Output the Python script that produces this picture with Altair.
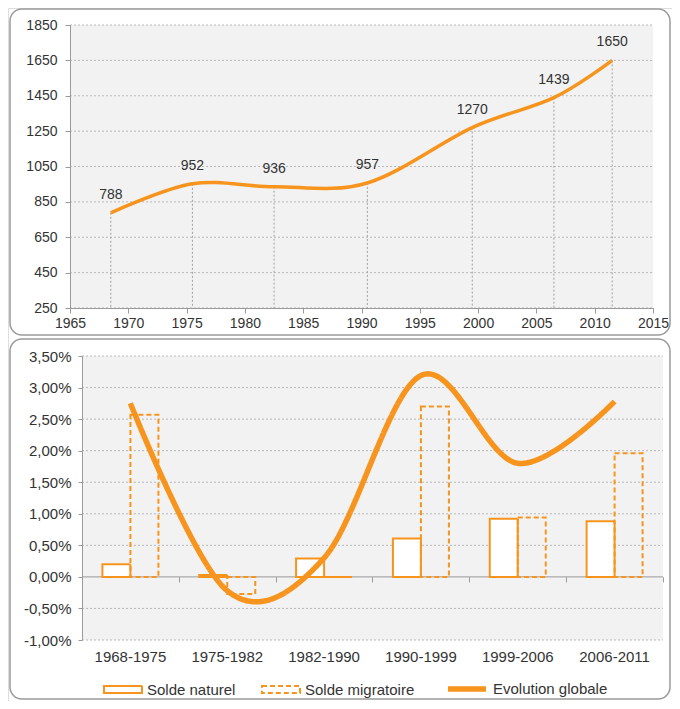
import altair as alt
import pandas as pd

# ---------------- data ----------------
years = [1968, 1975, 1982, 1990, 1999, 2006, 2011]
population = [788, 952, 936, 957, 1270, 1439, 1650]

periods = ["1968-1975", "1975-1982", "1982-1990", "1990-1999", "1999-2006", "2006-2011"]
solde_naturel = [0.20, 0.03, 0.29, 0.61, 0.92, 0.88]
solde_migratoire = [2.57, -0.27, 0.00, 2.70, 0.94, 1.96]
evolution_globale = [2.75, -0.22, 0.30, 3.19, 1.80, 2.78]

series_names = ["Solde naturel", "Solde migratoire", "Evolution globale"]

top_x_ticks = list(range(1965, 2016, 5))
top_y_ticks = list(range(250, 1851, 200))
bot_y_ticks = [-1.0, -0.5, 0.0, 0.5, 1.0, 1.5, 2.0, 2.5, 3.0, 3.5]

# ---------------- style / layout ----------------
ORANGE = "#F7941D"
TEXT = "#333333"
AXIS = "#9a9a9a"
GRID = "#b8b8b8"
FRAME = "#9a9a9a"
BG = "#F2F2F2"
FONT = "Liberation Sans"

W, H = 664, 693
# top panel plot area (pixels)
TX0, TX1, TY0, TY1 = 62, 645, 17, 300
# bottom panel plot area (pixels)
BX0, BX1, BY0, BY1 = 74, 655, 348, 632
Y_MIN, Y_MAX = -1.0, 3.5

pop_df = pd.DataFrame({"year": years, "population": population})
bars_df = pd.DataFrame({
    "period": periods * 2,
    "series": [series_names[0]] * len(periods) + [series_names[1]] * len(periods),
    "value": solde_naturel + solde_migratoire,
})
line_df = pd.DataFrame({
    "period": periods,
    "series": [series_names[2]] * len(periods),
    "value": evolution_globale,
})
one_df = pd.DataFrame({"k": [0]})


def box(x0, x1, y0, y1, **kw):
    return alt.Chart(one_df).mark_rect(**kw).encode(
        x=alt.value(x0), x2=alt.value(x1), y=alt.value(y0), y2=alt.value(y1)
    )


frames = alt.layer(
    box(TX0, TX1, TY0, TY1, color=BG),
    box(BX0, BX1, BY0, BY1, color=BG),
    box(2, 662, 1, 327, fillOpacity=0, stroke=FRAME, strokeWidth=1.5, cornerRadius=12),
    box(2, 662, 331, 691, fillOpacity=0, stroke=FRAME, strokeWidth=1.5, cornerRadius=12),
)

# ---------------- top panel ----------------
top_base = alt.Chart(pop_df).transform_calculate(t="datum.year + 0.5")

x_top_scale = alt.Scale(domain=[1965, 2015], range=[TX0, TX1], nice=False, zero=False)
x_top_axis = alt.Axis(
    orient="bottom", offset=-(H - TY1), zindex=1,
    values=top_x_ticks, format="d", title=None, grid=False,
    domainColor=AXIS, tickColor=AXIS, tickSize=5, labelPadding=3,
    labelFlush=False, labelOverlap=False, labelBound=False,
    labelFontSize=14, labelColor=TEXT, labelFont=FONT,
)
y_top_scale = alt.Scale(domain=[250, 1850], range=[TY1, TY0], nice=False, zero=False)
y_top_axis = alt.Axis(
    orient="left", offset=-TX0, zindex=1,
    values=top_y_ticks, format="d", title=None, grid=False,
    domainColor=AXIS, tickColor=AXIS,
    tickSize=5, labelPadding=8, labelOverlap=False, labelFlush=False, labelBound=False,
    labelFontSize=14, labelColor=TEXT, labelFont=FONT,
)
x_top = alt.X("t:Q", scale=x_top_scale, axis=x_top_axis)
y_top = alt.Y("population:Q", scale=y_top_scale, axis=y_top_axis)

top_grid = alt.Chart(pd.DataFrame({"v": top_y_ticks})).mark_rule(
    color=GRID, strokeDash=[2, 2], strokeWidth=1
).encode(
    y=alt.Y("v:Q", scale=y_top_scale, axis=y_top_axis),
    x=alt.value(TX0), x2=alt.value(TX1),
)
drops = top_base.mark_rule(color="#a0a0a0", strokeDash=[2, 2], strokeWidth=1).encode(
    x=x_top, y=y_top, y2=alt.datum(250)
)
pop_line = top_base.mark_line(color=ORANGE, strokeWidth=3.5, interpolate="cardinal").encode(
    x=x_top, y=y_top
)
pop_labels = top_base.mark_text(dy=-18, fontSize=14, color=TEXT, font=FONT).encode(
    x=x_top, y=y_top, text=alt.Text("population:Q", format="d")
)
top = alt.layer(top_grid, drops, pop_line, pop_labels)

# ---------------- bottom panel ----------------
zero_y = BY1 - (0 - Y_MIN) / (Y_MAX - Y_MIN) * (BY1 - BY0)
band = (BX1 - BX0) / len(periods)
bar_w = 28
off_pad = (band / bar_w - 2) / 2

x_scale = alt.Scale(domain=periods, range=[BX0, BX1], paddingInner=0, paddingOuter=0)
y_bot_scale = alt.Scale(domain=[Y_MIN, Y_MAX], range=[BY1, BY0], nice=False, zero=False)
y_bot_axis = alt.Axis(
    orient="left", offset=-BX0, zindex=1,
    values=bot_y_ticks, title=None, grid=False,
    domainColor=AXIS, tickColor=AXIS, tickSize=4, labelPadding=7,
    labelOverlap=False, labelFlush=False, labelBound=False,
    labelFontSize=15, labelColor=TEXT, labelFont=FONT,
    labelExpr="replace(replace(format(datum.value, '.2f'), '.', ','), '\u2212', '-') + '%'",
)
y_bot = alt.Y("value:Q", scale=y_bot_scale, axis=y_bot_axis)

bot_grid = alt.Chart(pd.DataFrame({"v": bot_y_ticks})).mark_rule(strokeWidth=1).encode(
    y=alt.Y("v:Q", scale=y_bot_scale, axis=y_bot_axis),
    x=alt.value(BX0), x2=alt.value(BX1),
    color=alt.condition("datum.v === 0", alt.value("#999999"), alt.value(GRID)),
    strokeDash=alt.condition("datum.v === 0", alt.value([1, 0]), alt.value([2, 2])),
)

legend = alt.Legend(
    title=None, orient="none", direction="horizontal", legendX=95, legendY=659,
    labelFontSize=15, labelColor=TEXT, labelFont=FONT, labelOffset=4,
    columnPadding=22, symbolSize=1444, padding=0,
    symbolType=alt.expr(
        "datum.value === 'Evolution globale' ? 'M-1,0H1' : 'M-1,-0.18H1V0.18H-1Z'"
    ),
)

stroke_enc = alt.Stroke("series:N", scale=alt.Scale(domain=series_names, range=[ORANGE] * 3), legend=legend)
dash_enc = alt.StrokeDash("series:N", scale=alt.Scale(domain=series_names, range=[[1, 0], [5, 3], [1, 0]]), legend=legend)
width_enc = alt.StrokeWidth(
    "series:N", scale=alt.Scale(type="ordinal", domain=series_names, range=[2, 2, 5.5]), legend=legend
)
fill_enc = alt.Fill("series:N", scale=alt.Scale(domain=series_names, range=["#ffffff", "transparent", ORANGE]), legend=legend)

bars = alt.Chart(bars_df).mark_bar().encode(
    x=alt.X(
        "period:N", sort=periods, scale=x_scale,
        axis=alt.Axis(
            orient="bottom", offset=-(H - BY1), title=None, domain=False, ticks=False, tickSize=0,
            labelAngle=0, labelPadding=9, labelFontSize=15, labelColor=TEXT, labelFont=FONT,
        ),
    ),
    xOffset=alt.XOffset(
        "series:N", sort=series_names[:2],
        scale=alt.Scale(domain=series_names[:2], paddingInner=0, paddingOuter=off_pad),
    ),
    y=y_bot,
    y2=alt.datum(0),
    stroke=stroke_enc,
    strokeDash=dash_enc,
    strokeWidth=width_enc,
    fill=fill_enc,
)

evo = alt.Chart(line_df).mark_line(interpolate="cardinal").encode(
    x=alt.X(
        "period:N", sort=periods, scale=x_scale,
        axis=alt.Axis(
            orient="bottom", offset=-(H - zero_y), zindex=1, title=None, labels=False, grid=False,
            domain=False, ticks=True, tickBand="extent", tickSize=5, tickColor=AXIS,
        ),
    ),
    y=y_bot,
    stroke=stroke_enc,
    strokeDash=dash_enc,
    strokeWidth=width_enc,
)

bottom = alt.layer(bot_grid, bars, evo).resolve_axis(x="independent")

chart = alt.layer(frames, top, bottom).resolve_scale(
    x="independent", y="independent"
).resolve_axis(
    x="independent", y="independent"
).properties(
    width=W, height=H, padding=0, autosize=alt.AutoSizeParams(type="none")
).configure_view(
    fill=None, stroke=None
).configure_axis(
    labelOverlap=False
).configure(font=FONT)

chart.save("out.html", embed_options={"renderer": "svg", "actions": False})
